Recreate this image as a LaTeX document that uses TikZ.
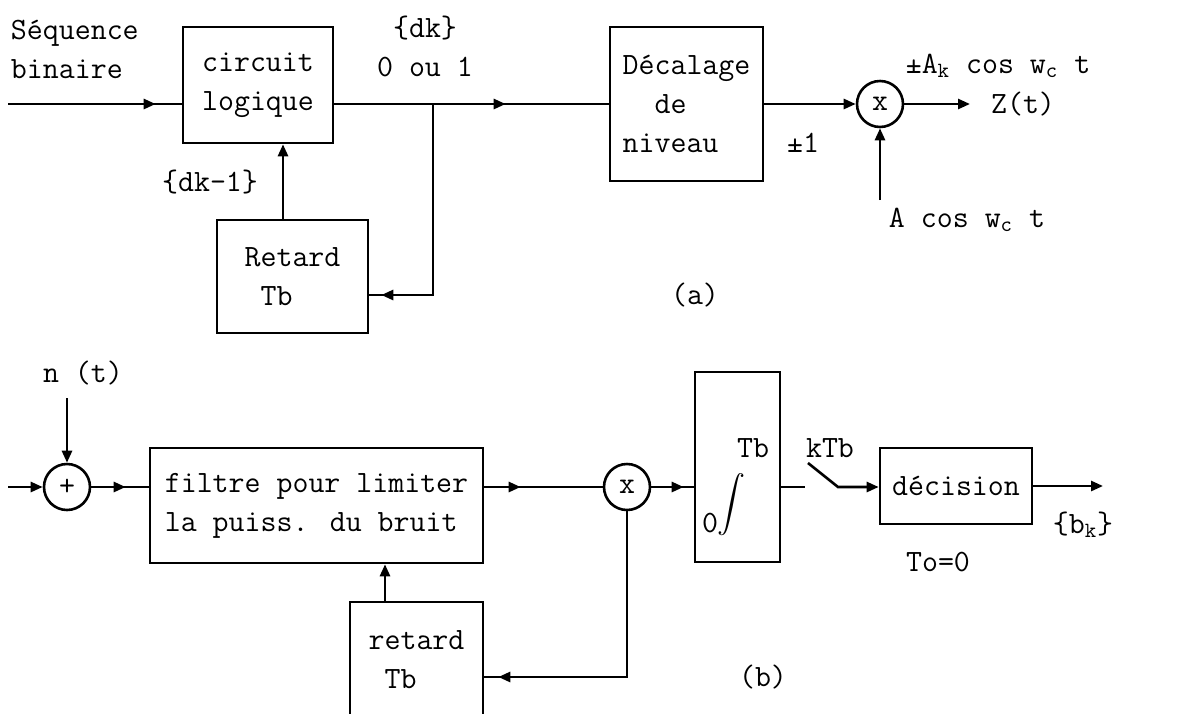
\documentclass[tikz,border=0pt]{standalone}
\usepackage{fontspec}
\usetikzlibrary{arrows.meta,decorations.markings}

\begin{document}
\begin{tikzpicture}[x=0.5pt,y=-0.5pt,line width=1.3pt,
  font=\ttfamily\fontsize{15.5pt}{19.5pt}\selectfont,
  >={Triangle[length=6pt,width=5pt]},
  block/.style={draw,inner sep=0pt},
  opnode/.style={draw,circle,minimum size=23pt,inner sep=0pt},
  tipat/.style={postaction={decorate},
    decoration={markings,mark=at position #1 with {\arrow{>}}}}]
\useasboundingbox (0,0) rectangle (1199,713);
\node[block,minimum width=75pt,minimum height=58pt,align=center] (circ) at (258,85) {circuit\\logique};
\node[block,minimum width=75.5pt,minimum height=56.5pt,align=left] (ret1) at (292.5,276.5) {Retard\\\phantom{R}Tb};
\node[block,minimum width=76.5pt,minimum height=77pt,align=left] (dec) at (686.5,104) {Décalage\\\phantom{Dé}de\\niveau};
\node[opnode] (mul1) at (880,104) {x};
\node[opnode] (sum) at (67,487) {+};
\node[block,minimum width=166.5pt,minimum height=57.5pt,align=left] (filt) at (316.5,505.5) {filtre pour limiter\\la puiss. du bruit};
\node[block,minimum width=66.5pt,minimum height=58pt,align=left] (ret2) at (416.5,660) {retard\\\phantom{r}Tb};
\node[opnode] (mul2) at (627,487) {x};
\node[block,minimum width=42.5pt,minimum height=95pt] (integ) at (737.5,467) {};
\node[block,minimum width=76pt,minimum height=38pt] (deci) at (956,486) {décision};

\node[align=left,anchor=west] (seq) at (3,49) {Séquence\\binaire};
\node[align=center] (dk) at (425,46) {\{dk\}\\0 ou 1};
\node (dkm) at (210,182) {\{dk-1\}};
\node (pm1) at (803,143) {±1};
\node (ak) at (998,66) {±A\textsubscript{k} cos w\textsubscript{c} t};
\node (zt) at (1023,104) {Z(t)};
\node (acos) at (967,220) {A cos w\textsubscript{c} t};
\node (capa) at (695,295) {(a)};
\node (nt) at (83,373) {n (t)};
\node (tb) at (753,448) {Tb};
\node (zero) at (710,523) {0};
\node[scale=1.4] (intg) at (731,505) {$\displaystyle\int$};
\node (ktb) at (830,448) {kTb};
\node (bk) at (1083,525) {\{b\textsubscript{k}\}};
\node (to0) at (938,562) {To=0};
\node (capb) at (763,677) {(b)};

\coordinate (in1) at (8,104);
\coordinate (j1) at (433,104);
\coordinate (out1) at (970,104);
\coordinate (car) at (880,200);
\coordinate (in2) at (8,487);
\coordinate (ntl) at (67,398);
\coordinate (sw1) at (805,487);
\coordinate (sw2) at (808,463);
\coordinate (sw3) at (838,487);
\coordinate (out2) at (1103,486);

\draw[tipat=-13pt] (in1) -- (in1 -| circ.west);
\draw[tipat=-51.5pt] (circ.east |- in1) -- (dec.west);
\draw[tipat=-6pt] (j1) |- (ret1.east |- 0,295);
\draw[->] (ret1.north -| 283,0) -- (circ.south -| 283,0);
\draw[->] (dec.east) -- (mul1.west);
\draw[->] (mul1.east) -- (out1);
\draw[->] (car) -- (mul1.south);
\draw[->] (in2) -- (sum.west);
\draw[->] (ntl) -- (sum.north);
\draw[tipat=-11.5pt] (sum.east) -- (filt.west |- sum.east);
\draw[tipat=-41pt] (filt.east |- mul2.west) -- (mul2.west);
\draw[->] (ret2.north -| 385,0) -- (filt.south -| 385,0);
\draw[tipat=-7pt] (mul2.south) |- (ret2.east |- 0,677);
\draw[tipat=-5pt] (mul2.east) -- (integ.west |- mul2.east);
\draw (integ.east |- sw1) -- (sw1);
\draw[->] (sw2) -- (sw3) -- (deci.west |- sw3);
\draw[->] (deci.east) -- (out2);
\end{tikzpicture}
\end{document}
